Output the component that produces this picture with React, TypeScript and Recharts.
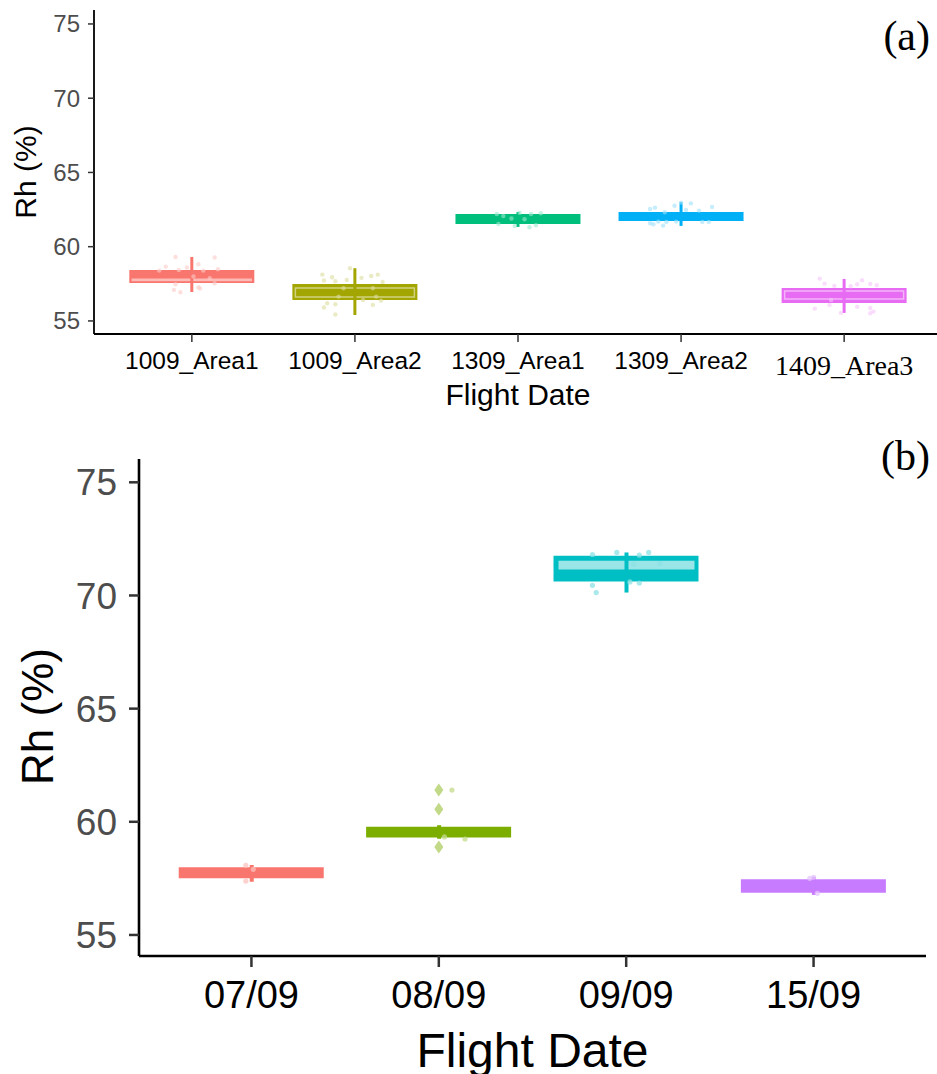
import { ComposedChart, Bar, Scatter, XAxis, YAxis, Cell } from 'recharts'

// ---- panel (a): flight date / area ----
const areaCats = ['1009_Area1', '1009_Area2', '1309_Area1', '1309_Area2', '1409_Area3']
const areaWhiskLow = [56.95, 55.4, 61.33, 61.4, 55.54]
const areaQ1 = [57.56, 56.41, 61.53, 61.73, 56.21]
const areaQ3 = [58.43, 57.49, 62.2, 62.34, 57.22]
const areaWhiskHigh = [59.31, 58.55, 62.34, 63.0, 57.83]
const areaInnerLow = [57.72, 56.62, null, null, 56.48]
const areaInnerHigh = [57.8, 57.22, null, null, 57.02]
const areaColors = ['#F8766D', '#A3A500', '#00BF7D', '#00B0F6', '#E76BF3']

// jittered observations: [offset from category centre, Rh]
const area1Obs = [[-0.1, 59.31], [0.14, 59.27], [-0.16, 58.66], [-0.03, 58.6], [0.04, 58.82], [0.16, 58.48], [-0.2, 58.39], [-0.08, 58.43], [0.07, 58.39], [-0.11, 57.09], [-0.07, 56.93], [0.04, 57.27], [0.05, 57.18], [0.14, 57.54], [-0.1, 57.47], [0.01, 58.0], [0.11, 57.87]]
const area2Obs = [[-0.2, 58.12], [-0.14, 57.94], [-0.03, 58.55], [-0.05, 57.76], [0.04, 57.9], [0.1, 58.03], [0.14, 58.12], [0.17, 57.63], [-0.19, 57.72], [-0.12, 57.67], [-0.07, 57.2], [0.11, 57.2], [-0.1, 56.64], [0.05, 56.41], [-0.17, 56.19], [-0.12, 56.12], [-0.19, 55.9], [-0.12, 55.43], [0.11, 56.08], [0.16, 56.37], [0.13, 56.64]]
const area3Obs = [[-0.13, 62.2], [-0.09, 62.07], [0.01, 62.29], [0.08, 62.2], [0.14, 62.25], [-0.12, 61.53], [-0.02, 61.4], [0.07, 61.31], [0.11, 61.44], [0.04, 61.85], [-0.04, 61.9]]
const area4Obs = [[-0.19, 62.54], [-0.16, 62.63], [-0.04, 62.76], [0, 62.97], [0.06, 62.92], [0.19, 62.68], [0.03, 62.47], [0.11, 62.43], [-0.1, 62.32], [-0.19, 61.58], [-0.17, 61.51], [-0.14, 61.69], [-0.11, 61.42], [-0.09, 61.67], [-0.03, 61.69], [0.13, 61.67], [0.17, 61.67]]
const area5Obs = [[-0.15, 57.85], [-0.12, 57.51], [-0.06, 57.36], [0.04, 57.34], [0.08, 57.47], [0.11, 57.74], [0.16, 57.49], [0.2, 57.4], [-0.18, 55.83], [-0.09, 56.08], [-0.02, 55.54], [0.08, 55.96], [0.16, 55.87], [0.18, 55.63], [0.16, 55.52], [-0.08, 56.41]]

// ---- panel (b): flight date ----
const dateCats = ['07/09', '08/09', '09/09', '15/09']
const dateWhiskLow = [57.35, 59.25, 70.13, 56.77]
const dateQ1 = [57.5, 59.31, 70.62, 56.87]
const dateQ3 = [57.99, 59.78, 71.75, 57.46]
const dateWhiskHigh = [58.09, 59.85, 71.9, 57.57]
const dateInnerLow = [null, null, 71.15, null]
const dateInnerHigh = [null, null, 71.53, null]
const dateColors = ['#F8766D', '#7CAE00', '#00BFC4', '#C77CFF']

const date1Obs = [[-0.03, 58.08], [-0.03, 57.38], [0.01, 57.9]]
const date2Obs = [[0.07, 61.4], [0.03, 59.33], [0.14, 59.24]]
const date3Obs = [[-0.18, 71.81], [-0.05, 71.9], [0.07, 71.78], [0.12, 71.9], [0.04, 71.38], [0.18, 71.41], [0.02, 70.6], [0.07, 70.55], [-0.18, 70.45], [-0.16, 70.13]]
const date4Obs = [[0, 57.55], [0.02, 56.84], [-0.02, 57.5]]
const date2Outliers = [[0, 61.4], [0, 60.55], [0, 58.89]]

const yTicks = [55, 60, 65, 70, 75]
const serifTicks = new Set(['1409_Area3'])

const SANS = 'Liberation Sans, Arial, sans-serif'
const SERIF = 'Liberation Serif, Times New Roman, serif'

function tint(hex: string, t: number) {
  const n = parseInt(hex.slice(1), 16)
  const mix = (c: number) => Math.round(c + (255 - c) * t)
  return `rgb(${mix((n >> 16) & 255)},${mix((n >> 8) & 255)},${mix(n & 255)})`
}

function buildRows(cats: string[], lo: number[], q1: number[], q3: number[], hi: number[], inLo: (number | null)[], inHi: (number | null)[]) {
  return cats.map((cat, i) => ({
    pos: i + 1,
    cat,
    box: [q1[i], q3[i]],
    whisk: [lo[i], hi[i]],
    inner: inLo[i] == null ? null : [inLo[i], inHi[i]],
  }))
}

function buildObs(groups: number[][][]) {
  return groups.flatMap((pts, g) => pts.map(([dx, v]) => ({ pos: g + 1 + dx, rh: v, g })))
}

const areaRows = buildRows(areaCats, areaWhiskLow, areaQ1, areaQ3, areaWhiskHigh, areaInnerLow, areaInnerHigh)
const areaObs = buildObs([area1Obs, area2Obs, area3Obs, area4Obs, area5Obs])
const dateRows = buildRows(dateCats, dateWhiskLow, dateQ1, dateQ3, dateWhiskHigh, dateInnerLow, dateInnerHigh)
const dateObs = buildObs([date1Obs, date2Obs, date3Obs, date4Obs])
const dateOutliers = date2Outliers.map(([dx, v]) => ({ pos: 2 + dx, rh: v, g: 1 }))

function AreaTick({ x, y, payload }: any) {
  const label = areaCats[Math.round(payload.value) - 1]
  const serif = serifTicks.has(label)
  return (
    <text x={x} y={serif ? y + 23 : y + 17} textAnchor="middle" fill="#000"
      fontFamily={serif ? SERIF : SANS} fontSize={serif ? 28 : 24.5}>
      {label}
    </text>
  )
}

function DateTick({ x, y, payload }: any) {
  return (
    <text x={x} y={y + 27} textAnchor="middle" fill="#000" fontFamily={SANS} fontSize={38}>
      {dateCats[Math.round(payload.value) - 1]}
    </text>
  )
}

function xTitle(dy: number, size: number) {
  return ({ viewBox }: any) => (
    <text x={viewBox.x + viewBox.width / 2} y={viewBox.y + dy} textAnchor="middle"
      fontFamily={SANS} fontSize={size} fill="#000">Flight Date</text>
  )
}

function yTitle(cx: number, dy: number, size: number) {
  return ({ viewBox }: any) => {
    const x = viewBox.x + cx
    const y = viewBox.y + viewBox.height / 2 + dy
    return (
      <text x={x} y={y} transform={`rotate(-90, ${x}, ${y})`} textAnchor="middle"
        fontFamily={SANS} fontSize={size} fill="#000">Rh (%)</text>
    )
  }
}

const dot = (r: number, colors: string[], t: number, op: number) => (p: any) => (
  <circle cx={p.cx} cy={p.cy} r={r} fill={tint(colors[p.payload.g], t)} fillOpacity={op} />
)

const diamond = (p: any) => (
  <polygon points={`${p.cx},${p.cy - 6.5} ${p.cx + 4.5},${p.cy} ${p.cx},${p.cy + 6.5} ${p.cx - 4.5},${p.cy}`}
    fill={tint(dateColors[1], 0.45)} fillOpacity={0.85} />
)

const hiddenAxis = (id: string, domain: number[]) => (
  <XAxis xAxisId={id} type="number" dataKey="pos" domain={domain} allowDataOverflow hide />
)

export default function App() {
  const aDomain = [0.4, 5.6]
  const bDomain = [0.4, 4.6]
  return (
    <div style={{ position: 'absolute', left: 0, top: 0, width: 937, height: 1074, overflow: 'hidden', background: '#fff' }}>
      <div style={{ position: 'absolute', left: 0, top: 0, width: 937, height: 430, overflow: 'hidden' }}>
        <ComposedChart width={950} height={430} data={areaRows} margin={{ top: 10, right: 8, bottom: 0, left: 0 }}>
          <XAxis xAxisId="box" type="number" dataKey="pos" domain={aDomain} ticks={[1, 2, 3, 4, 5]} allowDataOverflow
            height={96} interval={0} tickSize={8} tickMargin={10} tick={<AreaTick />}
            axisLine={{ stroke: '#000', strokeWidth: 1.8 }} tickLine={{ stroke: '#333', strokeWidth: 1.5 }}
            label={{ content: xTitle(71, 30) }} />
          {hiddenAxis('inner', aDomain)}
          {hiddenAxis('whisk', aDomain)}
          {hiddenAxis('obs', aDomain)}
          <YAxis type="number" domain={[54.12, 75.94]} ticks={yTicks} allowDataOverflow width={94}
            tickSize={6} tickMargin={8} tick={{ fill: '#4D4D4D', fontSize: 24, fontFamily: SANS }}
            axisLine={{ stroke: '#000', strokeWidth: 1.8 }} tickLine={{ stroke: '#333', strokeWidth: 1.5 }}
            label={{ content: yTitle(36, 0, 30) }} />
          <Bar xAxisId="box" dataKey="box" barSize={125} isAnimationActive={false}>
            {areaRows.map((r, i) => <Cell key={r.cat} fill={areaColors[i]} />)}
          </Bar>
          <Bar xAxisId="inner" dataKey="inner" barSize={119} fill="none" strokeWidth={1.5} isAnimationActive={false}>
            {areaRows.map((r, i) => <Cell key={r.cat} fill="none" stroke={tint(areaColors[i], 0.5)} />)}
          </Bar>
          <Bar xAxisId="whisk" dataKey="whisk" barSize={3} isAnimationActive={false}>
            {areaRows.map((r, i) => <Cell key={r.cat} fill={areaColors[i]} />)}
          </Bar>
          <Scatter xAxisId="obs" data={areaObs} dataKey="rh" shape={dot(2.2, areaColors, 0.62, 0.6)} isAnimationActive={false} />
        </ComposedChart>
      </div>

      <div style={{ position: 'absolute', left: 0, top: 430, width: 937, height: 644 }}>
        <ComposedChart width={937} height={644} data={dateRows} margin={{ top: 29, right: 11, bottom: 0, left: 0 }}>
          <XAxis xAxisId="box" type="number" dataKey="pos" domain={bDomain} ticks={[1, 2, 3, 4]} allowDataOverflow
            height={118} interval={0} tickSize={11} tickMargin={14} tick={<DateTick />}
            axisLine={{ stroke: '#000', strokeWidth: 2.6 }} tickLine={{ stroke: '#333', strokeWidth: 2.5 }}
            label={{ content: xTitle(111, 48) }} />
          {hiddenAxis('inner', bDomain)}
          {hiddenAxis('whisk', bDomain)}
          {hiddenAxis('obs', bDomain)}
          {hiddenAxis('out', bDomain)}
          <YAxis type="number" domain={[54.07, 76.03]} ticks={yTicks} allowDataOverflow width={139}
            tickSize={10} tickMargin={12} tick={{ fill: '#4D4D4D', fontSize: 37, fontFamily: SANS }}
            axisLine={{ stroke: '#000', strokeWidth: 2.6 }} tickLine={{ stroke: '#333', strokeWidth: 2.5 }}
            label={{ content: yTitle(53, 9, 44) }} />
          <Bar xAxisId="box" dataKey="box" barSize={145} isAnimationActive={false}>
            {dateRows.map((r, i) => <Cell key={r.cat} fill={dateColors[i]} />)}
          </Bar>
          <Bar xAxisId="inner" dataKey="inner" barSize={136} isAnimationActive={false}>
            {dateRows.map((r, i) => <Cell key={r.cat} fill={tint(dateColors[i], 0.6)} />)}
          </Bar>
          <Bar xAxisId="whisk" dataKey="whisk" barSize={4} isAnimationActive={false}>
            {dateRows.map((r, i) => <Cell key={r.cat} fill={dateColors[i]} />)}
          </Bar>
          <Scatter xAxisId="obs" data={dateObs} dataKey="rh" shape={dot(2.6, dateColors, 0.55, 0.75)} isAnimationActive={false} />
          <Scatter xAxisId="out" data={dateOutliers} dataKey="rh" shape={diamond} isAnimationActive={false} />
        </ComposedChart>
      </div>

      <svg width={937} height={1074} style={{ position: 'absolute', left: 0, top: 0, pointerEvents: 'none' }}>
        <text x={930} y={50} textAnchor="end" fontFamily={SERIF} fontSize={42} fill="#000">(a)</text>
        <text x={930} y={470} textAnchor="end" fontFamily={SERIF} fontSize={42} fill="#000">(b)</text>
      </svg>
    </div>
  )
}
